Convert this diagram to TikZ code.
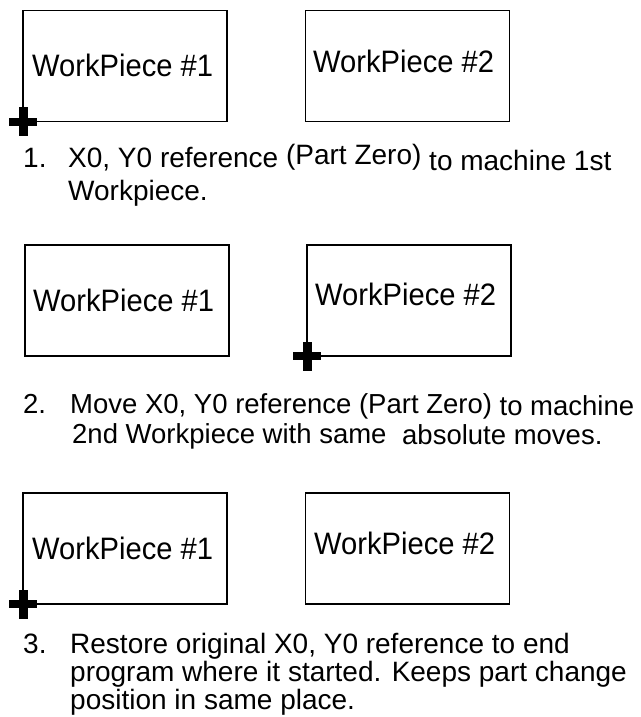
\documentclass[tikz,border=0pt]{standalone}
\usepackage{fontspec}
\setmainfont{Liberation Sans}
\begin{document}
\begin{tikzpicture}[x=1pt,y=-1pt,
  wpbox/.style={draw=black, line width=1.6pt, minimum width=204pt, minimum height=111pt, inner sep=0pt, outer sep=0pt},
  wplabel/.style={anchor=base west, inner sep=0pt, font=\fontsize{31}{31}\selectfont},
  txt/.style={anchor=base west, inner sep=0pt, font=\fontsize{28}{28}\selectfont},
  txtb/.style={anchor=base west, inner sep=0pt, font=\fontsize{27.5}{27.5}\selectfont},
  zeromark/.style={fill=black}
]
\useasboundingbox (0,0) rectangle (640,717);
\fill[white] (0,0) rectangle (640,717);

% ---------- Row 1 ----------
\node[wpbox] (b11) at (125,66) {};
\node[wpbox] (b12) at (407.5,66) {};
\node[wplabel] (l11) at (32,76) {\scalebox{0.94}[1]{WorkPiece \#1}};
\node[wplabel] (l12) at (313,72) {\scalebox{0.94}[1]{WorkPiece \#2}};
\fill[zeromark] (b11.south west) ++(-14,-4) rectangle ++(28,8);
\fill[zeromark] (b11.south west) ++(-4.5,-14.5) rectangle ++(9,29);
\node[txt] (n1) at (23,167) {1.};
\node[txt] (t1a) at (68,167) {X0, Y0 reference \raisebox{3pt}{(Part Zero)} \raisebox{-3pt}{to machine 1st}};
\node[txt] (t1b) at (68,200) {Workpiece.};

% ---------- Row 2 ----------
\node[wpbox] (b21) at (127,300.5) {};
\node[wpbox] (b22) at (409,300.5) {};
\node[wplabel] (l21) at (33,311) {\scalebox{0.94}[1]{WorkPiece \#1}};
\node[wplabel] (l22) at (315,305) {\scalebox{0.94}[1]{WorkPiece \#2}};
\fill[zeromark] (b22.south west) ++(-14,-4) rectangle ++(28,8);
\fill[zeromark] (b22.south west) ++(-4.5,-14.5) rectangle ++(9,29);
\node[txtb] (n2) at (23,413) {2.};
\node[txtb] (t2a) at (70,413) {Move X0, Y0 reference (Part Zero) \raisebox{-2pt}{to machine}};
\node[txtb] (t2b) at (72,443) {2nd Workpiece with same};
\node[txtb] (t2c) at (402,444) {absolute moves.};

% ---------- Row 3 ----------
\node[wpbox] (b31) at (125,548.5) {};
\node[wpbox] (b32) at (407.5,548.5) {};
\node[wplabel] (l31) at (32,559) {\scalebox{0.94}[1]{WorkPiece \#1}};
\node[wplabel] (l32) at (314,554) {\scalebox{0.94}[1]{WorkPiece \#2}};
\fill[zeromark] (b31.south west) ++(-14,-4) rectangle ++(28,8);
\fill[zeromark] (b31.south west) ++(-4.5,-14.5) rectangle ++(9,29);
\node[txt] (n3) at (23,653) {3.};
\node[txt] (t3a) at (70,653) {Restore original X0, Y0 reference to end};
\node[txt] (t3b) at (70,681) {program where it started. Keeps part change};
\node[txt] (t3c) at (70,709) {position in same place.};
\end{tikzpicture}
\end{document}
